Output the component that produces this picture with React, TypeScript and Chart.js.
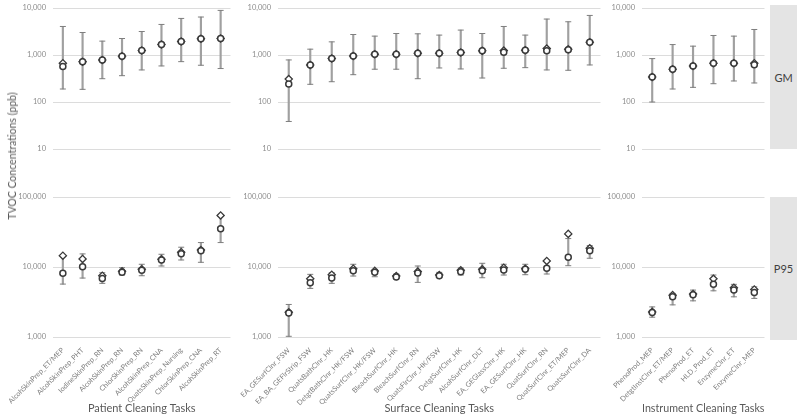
import React, { useEffect, useRef } from 'react';
import { Chart, registerables } from 'chart.js';
Chart.register(...registerables);

const FONT = 'Lato, "Open Sans", sans-serif';

// ---------- Patient Cleaning Tasks ----------
const patientLabels = ['AlcohSkinPrep_ET/MEP', 'AlcohSkinPrep_PHT', 'IodineSkinPrep_RN', 'AlcohSkinPrep_RN', 'ChlorSkinPrep_RN', 'AlcohSkinPrep_CNA', 'QuatsSkinPrep_Nursing', 'ChlorSkinPrep_CNA', 'AlcohSkinPrep_RT'];
const patientGmCircle = [570, 720, 786, 942, 1240, 1667, 1932, 2208, 2254];
const patientGmDiamond = [670, 722, 786, 942, 1241, 1667, 1932, 2208, 2254];
const patientGmLow = [189, 186, 313, 363, 481, 585, 722, 605, 515];
const patientGmHigh = [4045, 3010, 1972, 2243, 3162, 4467, 5998, 6425, 8890];
const patientP95Circle = [8130, 10090, 6860, 8400, 9000, 12600, 15520, 17000, 35080];
const patientP95Diamond = [14520, 13030, 7500, 8670, 9270, 12890, 16250, 17540, 54450];
const patientP95Low = [5700, 6950, 5840, 7680, 7500, 10330, 12590, 11670, 22330];
const patientP95High = [14500, 15380, 8280, 9770, 10940, 15200, 19170, 22330, 53000];

// ---------- Surface Cleaning Tasks ----------
const surfaceLabels = ['EA_GESurfClnr_FSW', 'EA_BA_GEFlrStrip_FSW', 'QuatsBathClnr_HK', 'DetgtBathClnr_HK/FSW', 'QuatsSurfClnr_HK/FSW', 'BleachSurfClnr_HK', 'BleachSurfClnr_RN', 'QuatsFlrClnr_HK/FSW', 'DetgtSurfClnr_HK', 'AlcohSurfClnr_DLT', 'EA_GEGlassClnr_HK', 'EA_GESurfClnr_HK', 'QuatSurfClnr_RN', 'QuatSurfClnr_ET/MEP', 'QuatsSurfClnr_DA'];
const surfaceGmCircle = [241, 614, 839, 957, 1040, 1040, 1092, 1090, 1127, 1224, 1148, 1268, 1224, 1300, 1866];
const surfaceGmDiamond = [308, 614, 839, 957, 1040, 1040, 1092, 1090, 1127, 1224, 1240, 1268, 1371, 1330, 1866];
const surfaceGmLow = [38.5, 238, 270, 381, 498, 498, 313, 530, 505, 324, 522, 538, 481, 473, 614];
const surfaceGmHigh = [785, 1330, 1905, 2729, 2520, 2866, 2825, 2650, 3388, 2866, 4045, 2650, 5820, 5096, 6950];
const surfaceP95Circle = [2200, 5955, 6950, 8850, 8400, 7200, 8200, 7500, 8520, 8850, 9060, 9300, 9570, 13770, 17000];
const surfaceP95Diamond = [2260, 6790, 7760, 9460, 8800, 7430, 8600, 7680, 8970, 9270, 9770, 9460, 12190, 29720, 18500];
const surfaceP95Low = [1023, 4945, 5840, 7430, 7260, 6790, 6030, 7110, 7680, 7020, 7680, 7760, 7940, 10440, 13330];
const surfaceP95High = [2917, 7850, 8280, 10940, 9270, 7940, 10330, 8390, 9680, 11300, 10940, 10940, 12300, 25470, 20210];

// ---------- Instrument Cleaning Tasks ----------
const instrumentLabels = ['PhenoProd_MEP', 'DetgtInstClnr_ET/MEP', 'PhenoProd_ET', 'HLD_Prod_ET', 'EnzymeClnr_ET', 'EnzymeClnr_MEP'];
const instrumentGmCircle = [340, 498, 585, 668, 668, 624];
const instrumentGmDiamond = [340, 498, 585, 668, 668, 668];
const instrumentGmLow = [100, 189, 205, 245, 280, 254];
const instrumentGmHigh = [838, 1667, 1542, 2600, 2520, 3490];
const instrumentP95Circle = [2230, 3750, 4007, 5650, 4677, 4335];
const instrumentP95Diamond = [2285, 3963, 4100, 6790, 5050, 4775];
const instrumentP95Low = [1918, 2877, 3286, 4570, 3750, 3556];
const instrumentP95High = [2692, 4198, 4677, 7680, 5650, 5210];

const gmTicks = [10, 100, 1000, 10000];
const p95Ticks = [1000, 10000, 100000];

const yTitle = 'TVOC Concentrations (ppb)';
const xTitles = ['Patient Cleaning Tasks', 'Surface Cleaning Tasks', 'Instrument Cleaning Tasks'];
const stripLabels = ['GM', 'P95'];

function fmt(v: number) {
  return String(Math.round(v)).replace(/\B(?=(\d{3})+(?!\d))/g, ',');
}

type PanelProps = {
  labels: string[];
  circ: number[];
  diam: number[];
  lo: number[];
  hi: number[];
  gm: boolean;
  xTitle: string;
  left: number;
  yW: number;
  plotW: number;
};

const PAD_T = 7;
const RIGHT_PAD = 3;
const X_AXIS_H = 78;

function Panel(p: PanelProps) {
  const ref = useRef<HTMLCanvasElement>(null);
  const plotH = p.gm ? 141 : 140;
  const top = p.gm ? 8 - PAD_T : 197 - PAD_T;
  const width = p.yW + p.plotW + RIGHT_PAD;
  const height = p.gm ? PAD_T + plotH + 7 : PAD_T + plotH + X_AXIS_H;
  useEffect(() => {
    const tickVals = p.gm ? gmTicks : p95Ticks;
    const chart = new Chart(ref.current!, {
      type: 'bar',
      data: {
        labels: p.labels,
        datasets: [
          {
            type: 'line', label: 'circle', data: p.circ, showLine: false,
            pointStyle: 'circle', pointRadius: 3, pointBorderWidth: 1.5,
            pointBorderColor: '#3a3a3a', pointBackgroundColor: '#ffffff', borderColor: '#3a3a3a', order: 0,
          } as any,
          {
            type: 'line', label: 'diamond', data: p.diam, showLine: false,
            pointStyle: 'rectRot', pointRadius: 3.6, pointBorderWidth: 1.3,
            pointBorderColor: '#3a3a3a', pointBackgroundColor: '#ffffff', borderColor: '#3a3a3a', order: 1,
          } as any,
          {
            type: 'line', label: 'low', data: p.lo, showLine: false,
            pointStyle: 'line', pointRadius: 3, pointBorderWidth: 1,
            pointBorderColor: '#7f7f7f', borderColor: '#7f7f7f', order: 2,
          } as any,
          {
            type: 'line', label: 'high', data: p.hi, showLine: false,
            pointStyle: 'line', pointRadius: 3, pointBorderWidth: 1,
            pointBorderColor: '#7f7f7f', borderColor: '#7f7f7f', order: 2,
          } as any,
          {
            type: 'bar', label: 'range', data: p.lo.map((l, i) => [l, p.hi[i]]),
            backgroundColor: '#a0a0a0', barThickness: 1.5, order: 3,
          } as any,
        ],
      },
      options: {
        animation: false,
        responsive: false,
        maintainAspectRatio: false,
        layout: { padding: { top: PAD_T, bottom: p.gm ? 7 : 0, left: 0, right: RIGHT_PAD } },
        plugins: { legend: { display: false }, tooltip: { enabled: false } },
        scales: {
          x: {
            type: 'category',
            offset: true,
            display: !p.gm,
            grid: { display: false },
            border: { display: false },
            ticks: {
              autoSkip: false, minRotation: 45, maxRotation: 45, padding: 1,
              color: '#7f7f7f', font: { family: FONT, size: 7.2 },
            },
            title: {
              display: !p.gm, text: p.xTitle, color: '#595959',
              font: { family: FONT, size: 11 }, padding: { top: 0, bottom: 0 },
            },
            afterFit: (s: any) => { if (!p.gm) s.height = X_AXIS_H; },
          },
          y: {
            type: 'logarithmic',
            min: p.gm ? 10 : 1000,
            max: p.gm ? 10000 : 100000,
            afterBuildTicks: (s: any) => { s.ticks = tickVals.map((v) => ({ value: v })); },
            ticks: {
              callback: (v: any) => fmt(Number(v)),
              color: '#8c8c8c', font: { family: FONT, size: 7.5 }, padding: 7,
            },
            grid: { color: '#dcdcdc', drawTicks: false, lineWidth: 1 },
            border: { display: false },
            afterFit: (s: any) => { s.width = p.yW; s.paddingTop = 4; s.paddingBottom = 4; },
          },
        },
      } as any,
    });
    return () => chart.destroy();
  }, []);
  return (
    <canvas
      ref={ref}
      width={width}
      height={height}
      style={{ position: 'absolute', left: p.left, top, width, height }}
    />
  );
}

const cols = [
  { labels: patientLabels, left: 0, yW: 53, plotW: 180,
    gm: [patientGmCircle, patientGmDiamond, patientGmLow, patientGmHigh],
    p95: [patientP95Circle, patientP95Diamond, patientP95Low, patientP95High] },
  { labels: surfaceLabels, left: 233, yW: 45, plotW: 325,
    gm: [surfaceGmCircle, surfaceGmDiamond, surfaceGmLow, surfaceGmHigh],
    p95: [surfaceP95Circle, surfaceP95Diamond, surfaceP95Low, surfaceP95High] },
  { labels: instrumentLabels, left: 600, yW: 42, plotW: 125,
    gm: [instrumentGmCircle, instrumentGmDiamond, instrumentGmLow, instrumentGmHigh],
    p95: [instrumentP95Circle, instrumentP95Diamond, instrumentP95Low, instrumentP95High] },
];

export default function App() {
  return (
    <div style={{ position: 'absolute', left: 0, top: 0, width: 800, height: 415, background: '#ffffff', overflow: 'hidden', fontFamily: FONT }}>
      {cols.map((c, i) => (
        <React.Fragment key={i}>
          <Panel labels={c.labels} circ={c.gm[0]} diam={c.gm[1]} lo={c.gm[2]} hi={c.gm[3]} gm={true}
            xTitle={xTitles[i]} left={c.left} yW={c.yW} plotW={c.plotW} />
          <Panel labels={c.labels} circ={c.p95[0]} diam={c.p95[1]} lo={c.p95[2]} hi={c.p95[3]} gm={false}
            xTitle={xTitles[i]} left={c.left} yW={c.yW} plotW={c.plotW} />
        </React.Fragment>
      ))}
      <div style={{ position: 'absolute', left: 770, top: 5, width: 27, height: 144, background: '#e4e4e4',
        display: 'flex', alignItems: 'center', justifyContent: 'center', color: '#404040', fontSize: 11 }}>{stripLabels[0]}</div>
      <div style={{ position: 'absolute', left: 770, top: 197, width: 27, height: 143, background: '#e4e4e4',
        display: 'flex', alignItems: 'center', justifyContent: 'center', color: '#404040', fontSize: 11 }}>{stripLabels[1]}</div>
      <div style={{ position: 'absolute', left: 12, top: 156, width: 0, height: 0 }}>
        <div style={{ position: 'absolute', left: 0, top: 0, transform: 'translate(-50%, -50%) rotate(-90deg)',
          whiteSpace: 'nowrap', color: '#595959', fontSize: 10.5 }}>{yTitle}</div>
      </div>
    </div>
  );
}
